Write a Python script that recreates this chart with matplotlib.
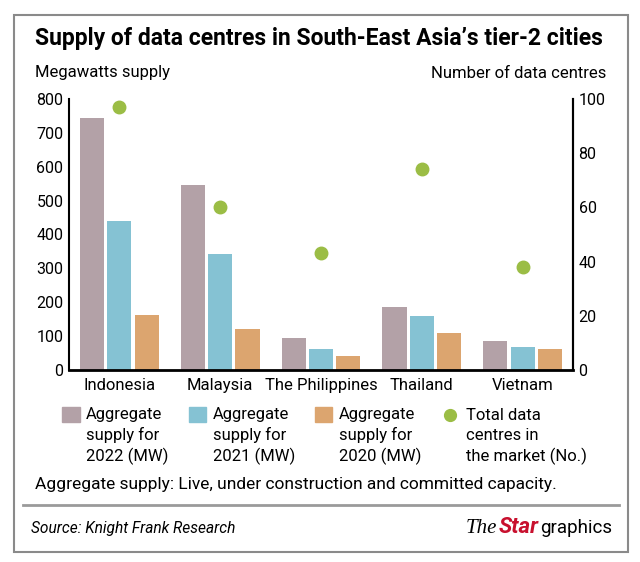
import matplotlib.pyplot as plt
import numpy as np
from matplotlib.patches import Rectangle
from matplotlib.lines import Line2D

plt.rcParams['font.family'] = ['Roboto', 'DejaVu Sans']

countries = ['Indonesia', 'Malaysia', 'The Philippines', 'Thailand', 'Vietnam']
supply_2022 = [745, 545, 93, 187, 86]
supply_2021 = [440, 342, 61, 159, 69]
supply_2020 = [162, 122, 41, 108, 63]
total_centres = [97, 60, 43, 74, 38]

c2022 = '#b3a1a7'
c2021 = '#85c2d3'
c2020 = '#dca56f'
cdot = '#9bbd45'

fig = plt.figure(figsize=(6.4, 5.62), dpi=100)
W, H = 640, 562

def fx(px):
    return px / W

def fy(py):
    return 1 - py / H

ax = fig.add_axes([fx(69), fy(370), fx(573) - fx(69), fy(99) - fy(370)])
x = np.arange(len(countries))
w = 0.24
off = 0.27
ax.bar(x - off, supply_2022, w, color=c2022)
ax.bar(x, supply_2021, w, color=c2021)
ax.bar(x + off, supply_2020, w, color=c2020)
ax.set_xlim(-0.5, 4.5)
ax.set_ylim(0, 800)
ax.set_yticks(range(0, 801, 100))
ax.set_xticks(x)
ax.set_xticklabels(countries)
ax.tick_params(length=0, labelsize=12)
ax.tick_params(axis='y', pad=4, labelsize=11.5)
ax.tick_params(axis='x', pad=6)
ax.spines['top'].set_visible(False)
ax.spines['bottom'].set_linewidth(2)
ax.spines['left'].set_linewidth(1.5)
ax.spines['right'].set_linewidth(1.5)

ax2 = ax.twinx()
ax2.plot(x, total_centres, 'o', color=cdot, markersize=9, clip_on=False)
ax2.set_ylim(0, 100)
ax2.set_yticks(range(0, 101, 20))
ax2.tick_params(length=0, labelsize=11.5, pad=4)
ax2.spines['top'].set_visible(False)
ax2.spines['bottom'].set_visible(False)
ax2.spines['left'].set_visible(False)
ax2.spines['right'].set_linewidth(1.5)

# legend
handles = [
    Rectangle((0, 0), 1, 1, color=c2022),
    Rectangle((0, 0), 1, 1, color=c2021),
    Rectangle((0, 0), 1, 1, color=c2020),
    Line2D([], [], marker='o', color=cdot, linestyle='none', markersize=8.5),
]
labels = ['Aggregate\nsupply for\n2022 (MW)', 'Aggregate\nsupply for\n2021 (MW)',
          'Aggregate\nsupply for\n2020 (MW)', 'Total data\ncentres in\nthe market (No.)']
leg = fig.legend(handles, labels, ncol=4, loc='upper left', bbox_to_anchor=(fx(62), fy(407)),
                 frameon=False, fontsize=12, handlelength=1.05, handleheight=1.0,
                 handletextpad=0.4, columnspacing=1.2, borderpad=0, borderaxespad=0)
for t in leg.get_texts():
    t.set_linespacing(1.38)
for col in leg._legend_handle_box.get_children():
    for row in col.get_children():
        row.align = 'top'

# texts
fig.text(fx(35), fy(39), 'Supply of data centres in South-East Asia\u2019s tier-2 cities',
         fontsize=16.5, fontweight='bold', va='center', ha='left')
fig.text(fx(35), fy(73), 'Megawatts supply', fontsize=12, va='center', ha='left')
fig.text(fx(606), fy(73), 'Number of data centres', fontsize=12, va='center', ha='right')
fig.text(fx(35), fy(485), 'Aggregate supply: Live, under construction and committed capacity.',
         fontsize=12.5, va='center', ha='left')
fig.text(fx(31), fy(528), 'Source: Knight Frank Research', fontsize=11.2, style='italic',
         va='center', ha='left')
fig.text(fx(612), fy(533), 'graphics', fontsize=13.5, va='baseline', ha='right')
fig.text(fx(539), fy(533), 'Star', fontsize=16, fontweight='bold', style='italic',
         color='#c8102e', va='baseline', ha='right')
fig.text(fx(497), fy(533), 'The', fontsize=15, style='italic', family='Liberation Serif',
         va='baseline', ha='right')

# frame and separator
fig.add_artist(Rectangle((fx(14), fy(552)), fx(628) - fx(14), fy(15) - fy(552),
                         transform=fig.transFigure, fill=False, edgecolor='#8a8a8a', lw=1.5))
fig.add_artist(Line2D([fx(23), fx(619)], [fy(505), fy(505)], transform=fig.transFigure,
                      color='#9a9a9a', lw=2))

fig.savefig('out.png', dpi=100)
